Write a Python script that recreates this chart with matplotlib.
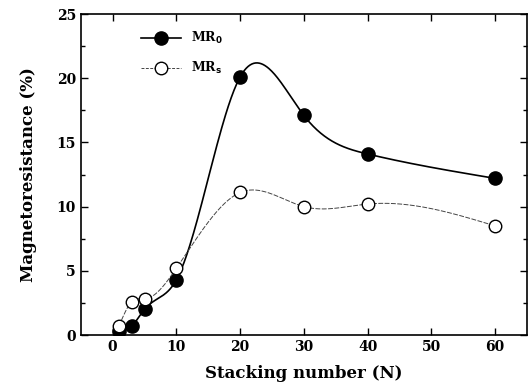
import numpy as np
import matplotlib
matplotlib.use("Agg")
import matplotlib.pyplot as plt
from matplotlib.ticker import MultipleLocator

# Stacking number N and the two magnetoresistance series (%)
stacking_n = [1, 3, 5, 10, 20, 30, 40, 60]
mr_0 = [0.3, 0.7, 2.0, 4.3, 20.1, 17.1, 14.1, 12.2]
mr_s = [0.7, 2.6, 2.8, 5.2, 11.1, 10.0, 10.2, 8.5]


def natural_spline(x, y, num=400):
    """Natural cubic spline through the points, for a smooth guide line."""
    x = np.asarray(x, float)
    y = np.asarray(y, float)
    n = len(x)
    h = np.diff(x)
    A = np.zeros((n, n))
    b = np.zeros(n)
    A[0, 0] = A[-1, -1] = 1.0
    for i in range(1, n - 1):
        A[i, i - 1] = h[i - 1]
        A[i, i] = 2 * (h[i - 1] + h[i])
        A[i, i + 1] = h[i]
        b[i] = 6 * ((y[i + 1] - y[i]) / h[i] - (y[i] - y[i - 1]) / h[i - 1])
    m = np.linalg.solve(A, b)
    xs = np.linspace(x[0], x[-1], num)
    idx = np.clip(np.searchsorted(x, xs) - 1, 0, n - 2)
    x0, x1 = x[idx], x[idx + 1]
    hh = x1 - x0
    t0, t1 = x1 - xs, xs - x0
    ys = (m[idx] * t0 ** 3 / (6 * hh) + m[idx + 1] * t1 ** 3 / (6 * hh)
          + (y[idx] / hh - m[idx] * hh / 6) * t0
          + (y[idx + 1] / hh - m[idx + 1] * hh / 6) * t1)
    return xs, ys


plt.rcParams["font.family"] = "DejaVu Serif"
plt.rcParams["font.weight"] = "bold"

fig = plt.figure(figsize=(5.28, 3.9), dpi=100)
ax = fig.add_axes([0.153, 0.141, 0.845, 0.823])

xs, ys = natural_spline(stacking_n, mr_0)
ax.plot(xs, ys, color="black", lw=1.2)
ax.plot(stacking_n, mr_0, "o", color="black", ms=9.5)

xs, ys = natural_spline(stacking_n, mr_s)
ax.plot(xs, ys, color="#444444", lw=0.7, ls=(0, (5, 1.5)))
ax.plot(stacking_n, mr_s, "o", mfc="white", mec="black", mew=1.0, ms=9)

# legend handles: line through the marker
ax.plot([], [], "-o", color="black", lw=1.2, ms=9.5, label=r"MR$_{\mathbf{0}}$")
ax.plot([], [], "o", ls=(0, (3, 1.5)), color="#444444", lw=0.7,
        mfc="white", mec="black", mew=1.0, ms=9, label=r"MR$_{\mathbf{s}}$")
handles, labels = ax.get_legend_handles_labels()
ax.legend(handles, labels, loc="upper left", bbox_to_anchor=(0.11, 0.985),
          frameon=False, handlelength=3.2, labelspacing=1.1,
          prop={"weight": "bold", "size": 9})

ax.set_xlim(-5, 65)
ax.set_ylim(0, 25)
ax.xaxis.set_major_locator(MultipleLocator(10))
ax.yaxis.set_major_locator(MultipleLocator(5))
ax.yaxis.set_minor_locator(MultipleLocator(2.5))
ax.tick_params(which="both", direction="in", top=True, right=True,
               labelsize=10, width=1.0)
ax.tick_params(which="major", length=5)
ax.tick_params(which="minor", length=3)
for lbl in ax.get_xticklabels() + ax.get_yticklabels():
    lbl.set_fontweight("bold")
for sp in ax.spines.values():
    sp.set_linewidth(1.2)

ax.set_xlabel("Stacking number (N)", fontsize=12, fontweight="bold", labelpad=8)
ax.set_ylabel("Magnetoresistance (%)", fontsize=12, fontweight="bold", labelpad=14)

fig.savefig("out.png", dpi=100)
